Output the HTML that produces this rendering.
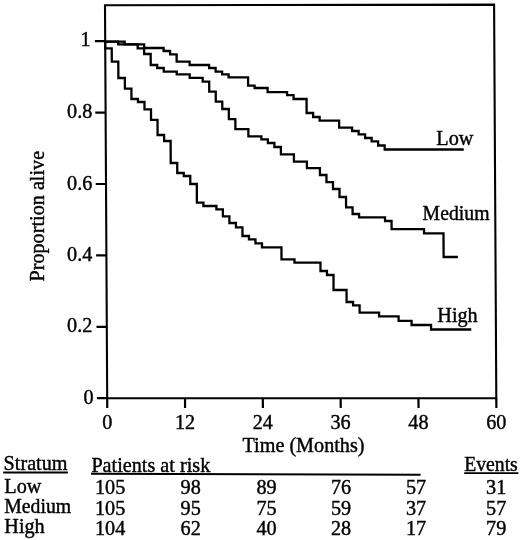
<!DOCTYPE html>
<html><head><meta charset="utf-8"><title>Survival by stratum</title>
<style>
html,body{margin:0;padding:0;background:#fff;}
body{width:520px;height:540px;overflow:hidden;}
svg{display:block;}
text{font-family:"Liberation Serif","Times New Roman",Times,serif;font-size:20.2px;fill:#000;stroke:#000;stroke-width:0.4px;}
</style></head>
<body>
<svg width="520" height="540" viewBox="0 0 520 540">
<rect width="520" height="540" fill="#fff"/>
<g transform="matrix(1 0 0.0056 1 0 0)" fill="none" stroke="#000" stroke-width="2.2" stroke-linejoin="miter" stroke-linecap="butt">
<path d="M104.97 5.2L494.07 4.6V398.2H104.97Z" stroke-width="2.1"/>
<path d="M94.67 398.20H104.97"/>
<path d="M94.67 326.80H104.97"/>
<path d="M94.67 255.40H104.97"/>
<path d="M94.67 184.00H104.97"/>
<path d="M94.67 112.60H104.97"/>
<path d="M94.67 41.20H104.97"/>
<path d="M104.97 398.2V407.90"/>
<path d="M182.79 398.2V407.90"/>
<path d="M260.61 398.2V407.90"/>
<path d="M338.43 398.2V407.90"/>
<path d="M416.25 398.2V407.90"/>
<path d="M494.07 398.2V407.90"/>
<path d="M104.97 41.6H124.42V44.4H143.88V48H163.34V51H169.82V54.4H176.31V61.6H189.28V65H208.73V68H215.22V71.6H221.70V74.4H228.19V77.4H247.64V85.6H254.12V88H267.10V92.2H286.55V95.2H293.03V99H306.00V113H312.49V117H318.98V120.6H338.43V127.6H351.40V131H357.88V134.4H364.37V138H370.86V141.4H377.34V145.5H383.83V149.5H462.94" stroke-width="2.3"/>
<path d="M104.97 41.6H117.94V44.4H137.40V48.4H143.88V54H150.37V65H156.85V68H163.34V71.6H176.31V74.4H189.28V77.8H202.25V81.6H208.73V91.6H215.22V101.6H221.70V109H228.19V119.2H234.67V129.2H247.64V136.4H260.61V139.4H267.10V143H273.58V147H280.06V154.4H293.03V161.6H306.00V168.2H318.98V175H325.46V182.2H331.95V189H338.43V197H344.92V207.4H351.40V214H357.88V217.4H383.83V221H390.31V229.1H422.74V233.4H442.19V257H456.46" stroke-width="2.3"/>
<path d="M104.97 41.6H104.97V48.4H111.45V61.6H117.94V78H124.42V88.6H130.91V99H137.40V102H143.88V109.4H150.37V119.8H156.85V135H163.34V141H169.82V163H176.31V173H182.79V176H189.28V184H195.76V202.6H202.25V206H215.22V209.4H221.70V216.4H228.19V223H234.67V227.4H241.16V236H247.64V239.4H254.12V243.4H260.61V247.4H280.06V259.4H293.03V262.6H318.98V271H325.46V275H331.95V290H344.92V302H351.40V305.4H357.88V312.6H377.34V316.4H396.79V320.8H409.76V325H429.22V329.5H469.43" stroke-width="2.3"/>
</g>
<g>
<text x="93.7" y="404.1" text-anchor="end">0</text>
<text x="92.3" y="332.3" text-anchor="end">0.2</text>
<text x="92.3" y="260.9" text-anchor="end">0.4</text>
<text x="92.3" y="189.5" text-anchor="end">0.6</text>
<text x="92.3" y="118.1" text-anchor="end">0.8</text>
<text x="90.6" y="46.4" text-anchor="end">1</text>
<text x="107.2" y="428.8" text-anchor="middle">0</text>
<text x="185.0" y="428.8" text-anchor="middle">12</text>
<text x="262.8" y="428.8" text-anchor="middle">24</text>
<text x="340.6" y="428.8" text-anchor="middle">36</text>
<text x="418.4" y="428.8" text-anchor="middle">48</text>
<text x="496.3" y="428.8" text-anchor="middle">60</text>
<text x="303.5" y="451.6" text-anchor="middle">Time (Months)</text>
<text transform="translate(44 216.2) rotate(-90)" text-anchor="middle">Proportion alive</text>
<text x="436.3" y="145" text-anchor="start">Low</text>
<text x="422.6" y="220.2" text-anchor="start" textLength="66.9" lengthAdjust="spacingAndGlyphs">Medium</text>
<text x="437.3" y="321.6" text-anchor="start">High</text>
<text x="3.6" y="470.4" text-anchor="start">Stratum</text>
<text x="91.4" y="472.1" text-anchor="start">Patients at risk</text>
<text x="464.2" y="470.9" text-anchor="start" textLength="53.6" lengthAdjust="spacingAndGlyphs">Events</text>
<text x="4.3" y="493.2" text-anchor="start">Low</text>
<text x="125.3" y="494.2" text-anchor="end">105</text>
<text x="200.8" y="494.2" text-anchor="end">98</text>
<text x="276.6" y="494.2" text-anchor="end">89</text>
<text x="351.1" y="494.2" text-anchor="end">76</text>
<text x="426.1" y="494.2" text-anchor="end">57</text>
<text x="506.3" y="494.2" text-anchor="end">31</text>
<text x="4.3" y="512.7" text-anchor="start" textLength="66.9" lengthAdjust="spacingAndGlyphs">Medium</text>
<text x="125.3" y="514.8" text-anchor="end">105</text>
<text x="200.8" y="514.8" text-anchor="end">95</text>
<text x="276.6" y="514.8" text-anchor="end">75</text>
<text x="351.1" y="514.8" text-anchor="end">59</text>
<text x="426.1" y="514.8" text-anchor="end">37</text>
<text x="506.3" y="514.8" text-anchor="end">57</text>
<text x="4.3" y="533.3" text-anchor="start">High</text>
<text x="125.3" y="535.0" text-anchor="end">104</text>
<text x="200.8" y="535.0" text-anchor="end">62</text>
<text x="276.6" y="535.0" text-anchor="end">40</text>
<text x="351.1" y="535.0" text-anchor="end">28</text>
<text x="426.1" y="535.0" text-anchor="end">17</text>
<text x="506.3" y="535.0" text-anchor="end">79</text>
</g>
<g stroke="#000" stroke-width="1.9"><path d="M3.2 472.5H67.9"/><path d="M91 473.7L420.6 474.7"/><path d="M464.2 473.1H518.4"/></g>
</svg>
</body></html>
